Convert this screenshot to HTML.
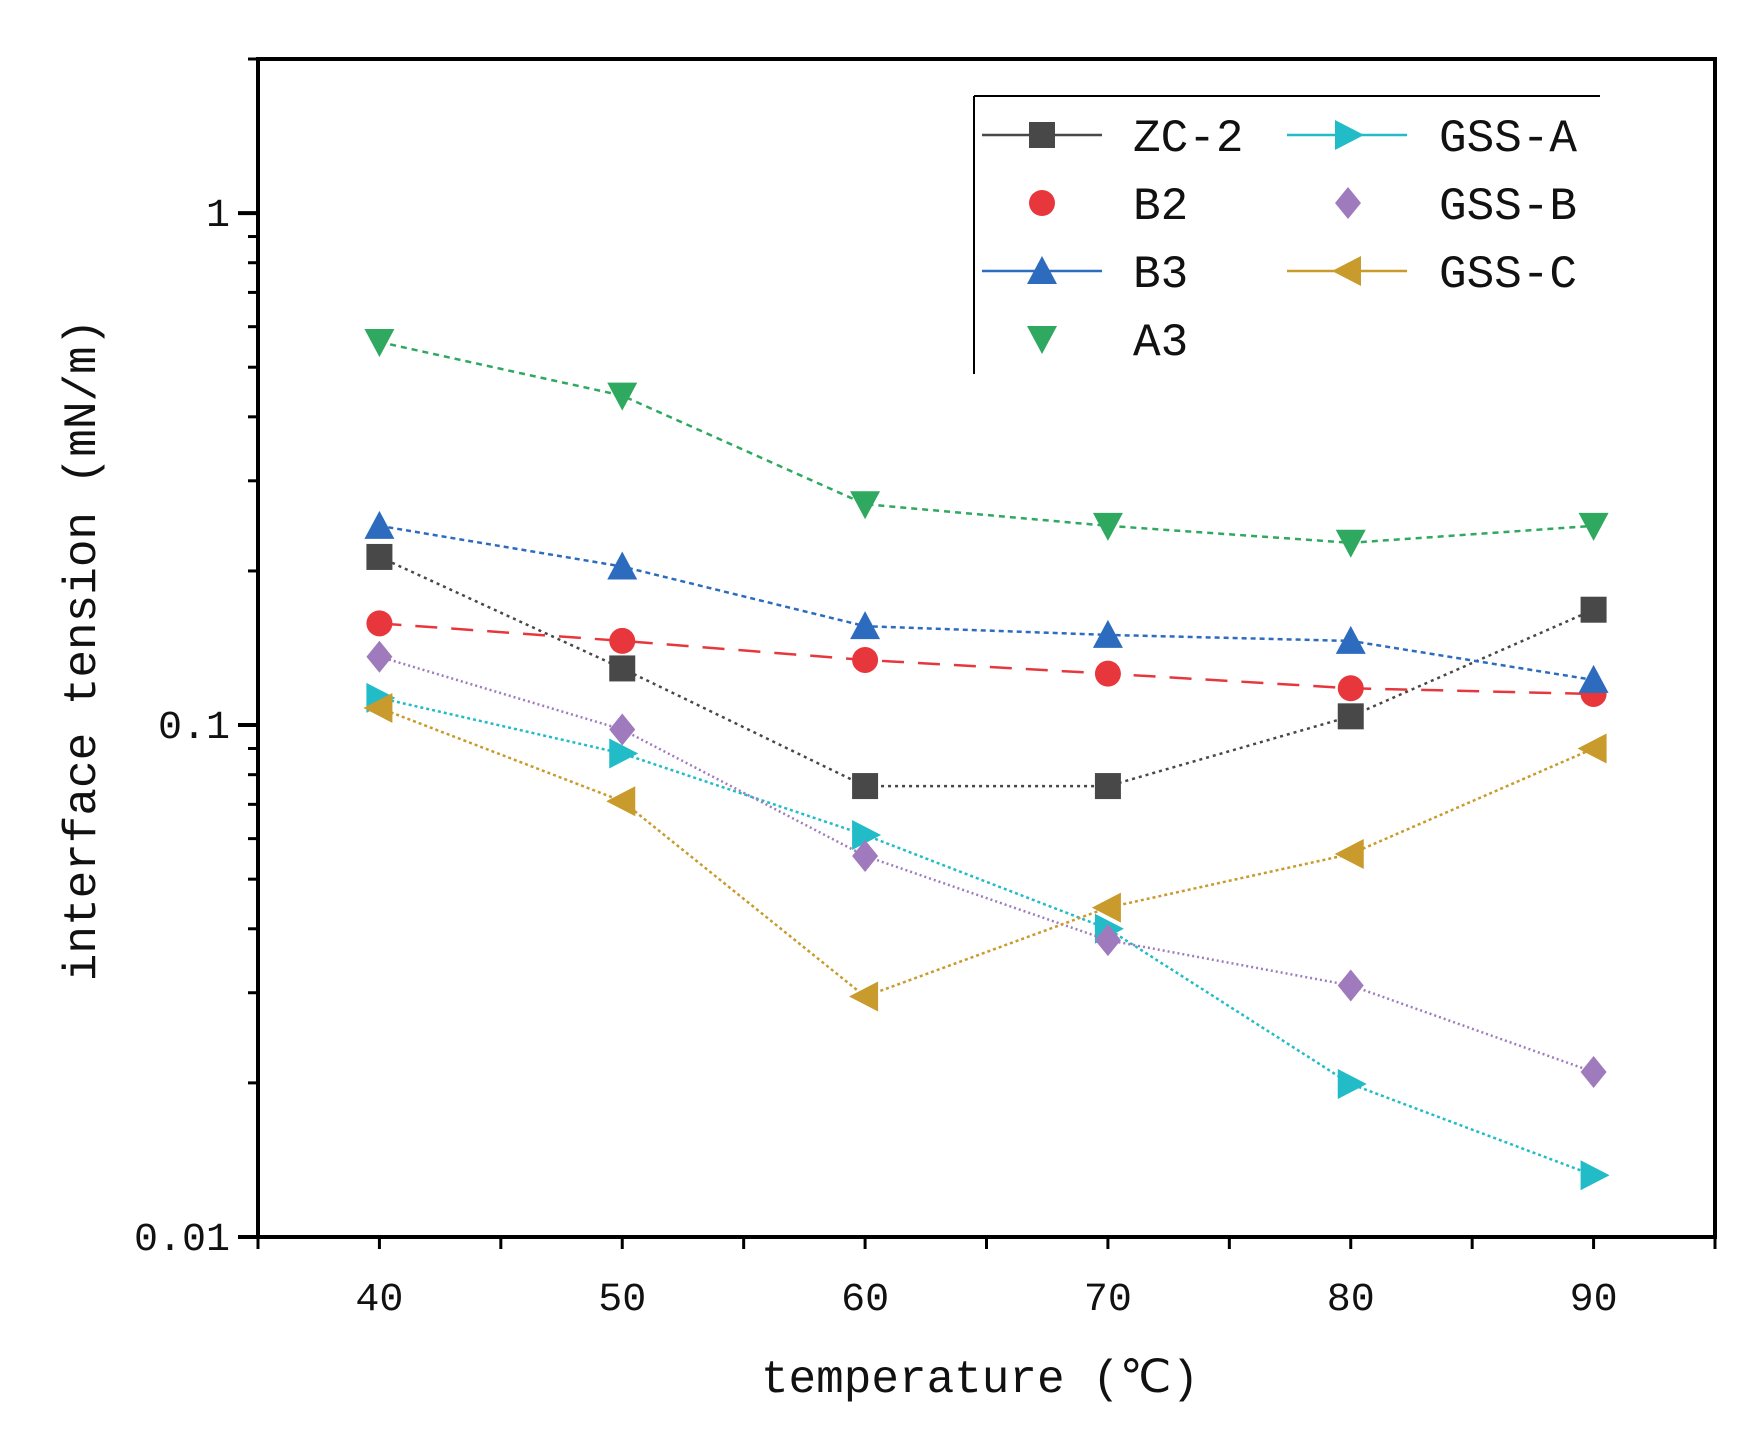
<!DOCTYPE html>
<html><head><meta charset="utf-8"><style>body{margin:0;background:#fff}svg{display:block}</style></head>
<body>
<svg id="chart" width="1758" height="1437" xmlns="http://www.w3.org/2000/svg"></svg>
<script>
const categories=[40,50,60,70,80,90];
const zc2=[0.213,0.129,0.076,0.076,0.104,0.168];
const b2=[0.158,0.146,0.134,0.126,0.118,0.115];
const b3=[0.245,0.204,0.156,0.150,0.146,0.1225];
const a3=[0.56,0.44,0.27,0.245,0.227,0.245];
const gssA=[0.113,0.088,0.061,0.040,0.0199,0.0132];
const gssB=[0.136,0.098,0.0555,0.038,0.031,0.021];
const gssC=[0.108,0.071,0.0295,0.044,0.056,0.090];
const yTicks=[0.01,0.1,1];
const yTickLabels=["0.01","0.1","1"];
const series=[
 {name:"ZC-2",vals:zc2,color:"#484848",dash:"3,4",m:"square"},
 {name:"B2",vals:b2,color:"#e8373c",dash:"22,14",m:"circle"},
 {name:"B3",vals:b3,color:"#2d6bbf",dash:"5,4",m:"up"},
 {name:"A3",vals:a3,color:"#2fa860",dash:"6,5",m:"down"},
 {name:"GSS-A",vals:gssA,color:"#22bcc8",dash:"3,3",m:"right"},
 {name:"GSS-B",vals:gssB,color:"#9f7bbd",dash:"2,3",m:"diamond"},
 {name:"GSS-C",vals:gssC,color:"#c99a2c",dash:"3,3",m:"left"}];
const L=258,R=1715,T=59,B=1237;
const X=v=>L+(v-35)/60*(R-L);
const Y=v=>B-(Math.log10(v)+2)/(Math.log10(2)+2)*(B-T);
const svg=document.getElementById('chart');
const NS="http://www.w3.org/2000/svg";
function el(t,a,p){const e=document.createElementNS(NS,t);for(const k in a)e.setAttribute(k,a[k]);(p||svg).appendChild(e);return e;}
const FONT='"Liberation Mono","DejaVu Sans Mono",monospace';
function marker(m,x,y,c,g){const s=13;let e;
 if(m=="square")e=el('rect',{x:x-s,y:y-s,width:2*s,height:2*s,fill:c},g);
 else if(m=="circle")e=el('circle',{cx:x,cy:y,r:s,fill:c},g);
 else{let p;if(m=="up")p=[[x,y-s-2],[x+s+2,y+s],[x-s-2,y+s]];
 else if(m=="down")p=[[x,y+s+2],[x+s+2,y-s],[x-s-2,y-s]];
 else if(m=="right")p=[[x+s+3,y],[x-s,y-s-2],[x-s,y+s+2]];
 else if(m=="left")p=[[x-s-3,y],[x+s,y-s-2],[x+s,y+s+2]];
 else p=[[x,y-s-3],[x+s,y],[x,y+s+3],[x-s,y]];
 e=el('polygon',{points:p.map(q=>q.join(',')).join(' '),fill:c},g);}
 return e;}
// axes frame
const frame=el('rect',{x:L,y:T,width:R-L,height:B-T,fill:'none',stroke:'#000','stroke-width':4});

// x ticks
for(let v=35;v<=95;v+=5){const t=el('line',{x1:X(v),x2:X(v),y1:B,y2:B+12,stroke:'#000','stroke-width':3});
 }
categories.forEach(c=>{const t=el('text',{x:X(c),y:1310,'text-anchor':'middle','font-family':FONT,'font-size':40,fill:'#111'});t.textContent=c;
 });
// y ticks
yTicks.forEach((v,i)=>{const t=el('line',{x1:L-20,x2:L,y1:Y(v),y2:Y(v),stroke:'#000','stroke-width':4});
 
 const tl=el('text',{x:L-28,y:Y(v)+13,'text-anchor':'end','font-family':FONT,'font-size':40,fill:'#111'});tl.textContent=yTickLabels[i];
 });
for(let d=-2;d<=0;d++)for(let k=2;k<=9;k++){const v=k*Math.pow(10,d);if(v>2)break;
 const t=el('line',{x1:L-10,x2:L,y1:Y(v),y2:Y(v),stroke:'#000','stroke-width':3});
 }
const xt=el('text',{x:980,y:1392,'text-anchor':'middle','font-family':FONT,'font-size':46,fill:'#111'});xt.textContent='temperature (℃)';

const yt=el('text',{x:0,y:0,transform:'translate(95,650) rotate(-90)','text-anchor':'middle','font-family':FONT,'font-size':46,fill:'#111'});yt.textContent='interface tension (mN/m)';

// series
series.forEach(s=>{const g=el('g',{});
 
 const pl=el('polyline',{points:s.vals.map((v,i)=>X(categories[i])+','+Y(v)).join(' '),fill:'none',stroke:s.color,'stroke-width':2.5,'stroke-dasharray':s.dash},g);
 
 s.vals.forEach((v,i)=>{const m=marker(s.m,X(categories[i]),Y(v),s.color,g);
  });});
// legend
const lg=el('g',{});
el('line',{x1:974,y1:96,x2:1600,y2:96,stroke:'#000','stroke-width':2},lg);
el('line',{x1:974,y1:96,x2:974,y2:374,stroke:'#000','stroke-width':2},lg);
const pos=[[0,0],[0,1],[0,2],[0,3],[1,0],[1,1],[1,2]];
series.forEach((s,i)=>{const [c,r]=pos[i];const y=135+r*68;const lx=c?1287:982,mx=c?1348:1042,tx=c?1439:1133;
 const eg=el('g',{},lg);
 if(s.m!="circle"&&s.m!="down"&&s.m!="diamond")el('line',{x1:lx,x2:lx+120,y1:y,y2:y,stroke:s.color,'stroke-width':2.5},eg);
 marker(s.m,mx,y,s.color,eg);
 const t=el('text',{x:tx,y:y+16,'font-family':FONT,'font-size':46,fill:'#111'},eg);t.textContent=s.name;});
</script>
</body></html>
